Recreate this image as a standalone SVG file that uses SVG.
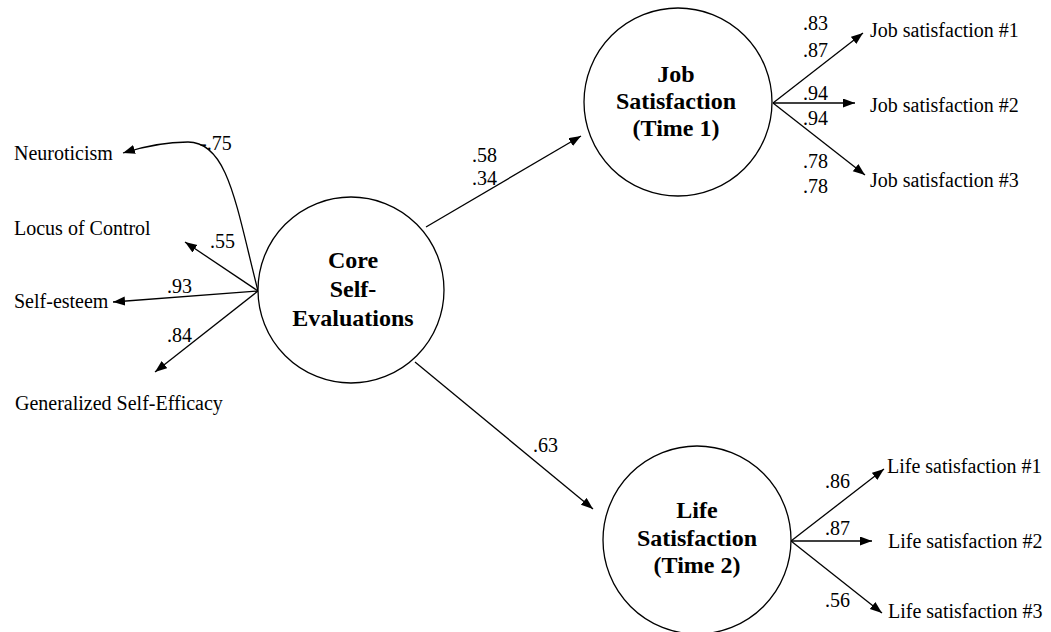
<svg xmlns="http://www.w3.org/2000/svg" width="1051" height="632" viewBox="0 0 1051 632">
<style>
.t{font-family:"Liberation Serif","Times New Roman",serif;font-size:20px;fill:#000}
.b{font-family:"Liberation Serif","Times New Roman",serif;font-size:24px;font-weight:bold;fill:#000;text-anchor:middle}
.c{fill:#fff;stroke:#000;stroke-width:1.3}
.e{fill:none;stroke:#000;stroke-width:1.3;marker-end:url(#ah)}
</style>
<defs>
<marker id="ah" markerUnits="userSpaceOnUse" markerWidth="13" markerHeight="10" refX="12" refY="4.5" orient="auto">
<path d="M0,0 L12,4.5 L0,9 z" fill="#000"/>
</marker>
</defs>
<rect width="1051" height="632" fill="#fff"/>
<g id="connectors">
<path class="e" d="M258,291 C236,205 228,142 188,142 C165,142 142,147 123,153"/>
<line class="e" x1="258" y1="291" x2="185" y2="242"/>
<line class="e" x1="258" y1="291" x2="113" y2="302"/>
<line class="e" x1="258" y1="291" x2="155" y2="372"/>
<line class="e" x1="426" y1="227" x2="581" y2="136"/>
<line class="e" x1="415" y1="362" x2="593" y2="509"/>
<line class="e" x1="773" y1="103" x2="863" y2="33"/>
<line class="e" x1="773" y1="103" x2="855" y2="103"/>
<line class="e" x1="773" y1="103" x2="865" y2="175"/>
<line class="e" x1="791" y1="541" x2="884" y2="469"/>
<line class="e" x1="791" y1="541" x2="872" y2="541"/>
<line class="e" x1="791" y1="541" x2="882" y2="613"/>
</g>
<g id="labels">
<text class="t" x="200" y="150">-.75</text>
<text class="t" x="210" y="248">.55</text>
<text class="t" x="167" y="293">.93</text>
<text class="t" x="167" y="342">.84</text>
<text class="t" x="472" y="162">.58</text>
<text class="t" x="472" y="185">.34</text>
<text class="t" x="533" y="452">.63</text>
<text class="t" x="803" y="30">.83</text>
<text class="t" x="803" y="57">.87</text>
<text class="t" x="803" y="100">.94</text>
<text class="t" x="803" y="125">.94</text>
<text class="t" x="803" y="168">.78</text>
<text class="t" x="803" y="193">.78</text>
<text class="t" x="825" y="488">.86</text>
<text class="t" x="825" y="535">.87</text>
<text class="t" x="825" y="607">.56</text>
</g>
<g id="neuroticism"><text class="t" x="14" y="160">Neuroticism</text></g>
<g id="locus"><text class="t" x="14" y="235">Locus of Control</text></g>
<g id="selfesteem"><text class="t" x="14" y="308">Self-esteem</text></g>
<g id="gse"><text class="t" x="15" y="410">Generalized Self-Efficacy</text></g>
<g id="core">
<circle class="c" cx="351" cy="290" r="93"/>
<text class="b" x="353" y="268">Core</text>
<text class="b" x="353" y="297">Self-</text>
<text class="b" x="353" y="326">Evaluations</text>
</g>
<g id="job">
<circle class="c" cx="678" cy="102" r="94"/>
<text class="b" x="676" y="82">Job</text>
<text class="b" x="676" y="109">Satisfaction</text>
<text class="b" x="676" y="136">(Time 1)</text>
</g>
<g id="life">
<circle class="c" cx="697" cy="540" r="94"/>
<text class="b" x="697" y="518">Life</text>
<text class="b" x="697" y="546">Satisfaction</text>
<text class="b" x="697" y="573">(Time 2)</text>
</g>
<g id="job1"><text class="t" x="870" y="37">Job satisfaction #1</text></g>
<g id="job2"><text class="t" x="870" y="112">Job satisfaction #2</text></g>
<g id="job3"><text class="t" x="870" y="187">Job satisfaction #3</text></g>
<g id="life1"><text class="t" x="887" y="473">Life satisfaction #1</text></g>
<g id="life2"><text class="t" x="888" y="548">Life satisfaction #2</text></g>
<g id="life3"><text class="t" x="888" y="618">Life satisfaction #3</text></g>
</svg>
